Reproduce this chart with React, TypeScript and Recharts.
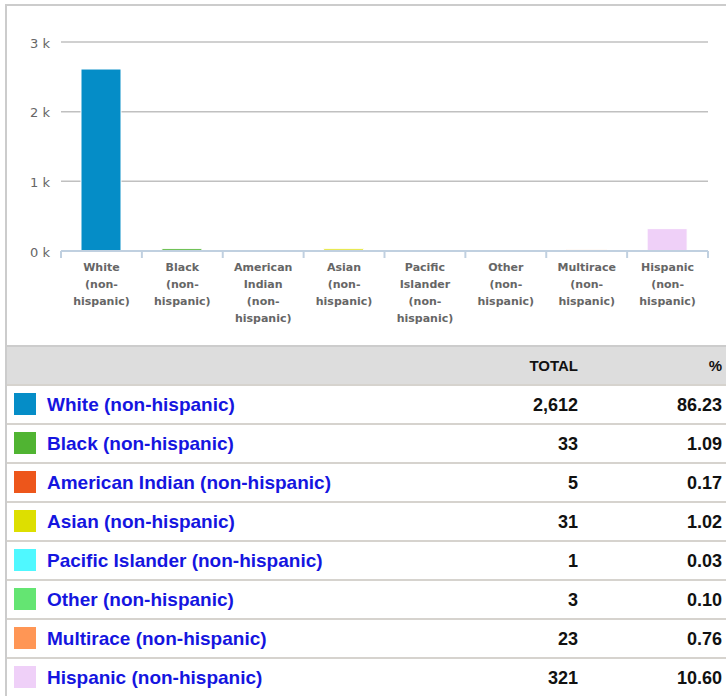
import { Bar, BarChart, CartesianGrid, Cell, XAxis, YAxis } from 'recharts';

// 人種構成（件数と比率）
const CATEGORIES = [
  'White (non-hispanic)',
  'Black (non-hispanic)',
  'American Indian (non-hispanic)',
  'Asian (non-hispanic)',
  'Pacific Islander (non-hispanic)',
  'Other (non-hispanic)',
  'Multirace (non-hispanic)',
  'Hispanic (non-hispanic)',
];
const TOTALS = [2612, 33, 5, 31, 1, 3, 23, 321];
const PERCENTS = ['86.23', '1.09', '0.17', '1.02', '0.03', '0.10', '0.76', '10.60'];
const COLORS = ['#058dc7', '#50b432', '#ed561b', '#dddf00', '#4ff8ff', '#64e572', '#ff9655', '#efd0f8'];
const Y_TICKS = [0, 1000, 2000, 3000];

const AXIS_COLOR = '#c0d0e0';
const CHART_FONT = '"DejaVu Sans", Verdana, sans-serif';
const TABLE_FONT = '"Liberation Sans", Arial, sans-serif';
const TOTAL_RIGHT = 726 - 578; // TOTAL 列の右端
const PCT_RIGHT = 4;

const rows = CATEGORIES.map((name, i) => ({ name, value: TOTALS[i] }));

// "(non-hispanic)" はハイフンで折り返し、単語ごとに1行
function splitLabel(label: string) {
  return label.replace('(non-hispanic)', '(non- hispanic)').split(' ');
}

function CategoryTick(props: any) {
  const { x, y, payload, index, width, visibleTicksCount } = props;
  const half = payload?.offset ?? width / visibleTicksCount / 2;
  const lines = splitLabel(String(payload.value));
  const last = index === visibleTicksCount - 1;
  return (
    <g>
      <line x1={x - half} x2={x - half} y1={y} y2={y + 7} stroke={AXIS_COLOR} strokeWidth={2} />
      {last ? (
        <line x1={x + half} x2={x + half} y1={y} y2={y + 7} stroke={AXIS_COLOR} strokeWidth={2} />
      ) : null}
      <text
        x={x}
        y={y}
        textAnchor="middle"
        fill="#666"
        fontFamily={CHART_FONT}
        fontSize={11}
        fontWeight="bold"
      >
        {lines.map((line, i) => (
          <tspan key={i} x={x} y={y + 20 + i * 17}>
            {line}
          </tspan>
        ))}
      </text>
    </g>
  );
}

export default function App() {
  return (
    <div
      style={{
        position: 'absolute',
        left: 0,
        top: 0,
        width: 726,
        height: 696,
        overflow: 'hidden',
        background: '#fff',
      }}
    >
      {/* 外枠（右と下は切れている） */}
      <div
        style={{
          position: 'absolute',
          left: 5,
          top: 4,
          width: 740,
          height: 720,
          borderLeft: '2px solid #ccc',
          borderTop: '2px solid #ccc',
        }}
      />

      <div style={{ position: 'absolute', left: 0, top: 0 }}>
        <BarChart width={726} height={345} data={rows} margin={{ top: 42, right: 18, bottom: 0, left: 0 }}>
          <CartesianGrid vertical={false} stroke="#c0c0c0" strokeWidth={1.5} />
          <YAxis
            width={61}
            domain={[0, 3000]}
            ticks={Y_TICKS}
            axisLine={false}
            tickLine={false}
            tickSize={0}
            tickMargin={11}
            tickFormatter={(v: number) => `${v / 1000} k`}
            tick={{ fill: '#666', fontSize: 13, fontFamily: CHART_FONT, dy: 1 }}
          />
          <XAxis
            dataKey="name"
            height={94}
            interval={0}
            stroke={AXIS_COLOR}
            axisLine={{ stroke: AXIS_COLOR, strokeWidth: 2 }}
            tickLine={false}
            tickSize={0}
            tickMargin={0}
            tick={<CategoryTick />}
          />
          <Bar dataKey="value" barSize={40} stroke="#fff" strokeWidth={1} isAnimationActive={false}>
            {rows.map((r, i) => (
              <Cell key={r.name} fill={COLORS[i]} />
            ))}
          </Bar>
        </BarChart>
      </div>

      {/* 集計表 */}
      <div
        style={{
          position: 'absolute',
          left: 7,
          top: 345,
          width: 719,
          height: 37,
          borderTop: '2px solid #ccc',
          background: '#ddd',
          fontFamily: TABLE_FONT,
          fontWeight: 'bold',
          fontSize: 15,
          color: '#111',
        }}
      >
        <span style={{ position: 'absolute', right: TOTAL_RIGHT, top: 10 }}>TOTAL</span>
        <span style={{ position: 'absolute', right: PCT_RIGHT, top: 10 }}>%</span>
      </div>
      {CATEGORIES.map((name, i) => (
        <div
          key={name}
          style={{
            position: 'absolute',
            left: 7,
            top: 384 + i * 39,
            width: 719,
            height: 37,
            borderTop: '2px solid #d6d3ce',
            fontFamily: TABLE_FONT,
            fontWeight: 'bold',
          }}
        >
          <div
            style={{
              position: 'absolute',
              left: 7,
              top: 7,
              width: 22,
              height: 22,
              background: COLORS[i],
            }}
          />
          <span style={{ position: 'absolute', left: 40, top: 8, fontSize: 19, color: '#1515e0' }}>{name}</span>
          <span style={{ position: 'absolute', right: TOTAL_RIGHT, top: 9, fontSize: 18, color: '#111' }}>
            {TOTALS[i].toLocaleString('en-US')}
          </span>
          <span style={{ position: 'absolute', right: PCT_RIGHT, top: 9, fontSize: 18, color: '#111' }}>
            {PERCENTS[i]}
          </span>
        </div>
      ))}
    </div>
  );
}
